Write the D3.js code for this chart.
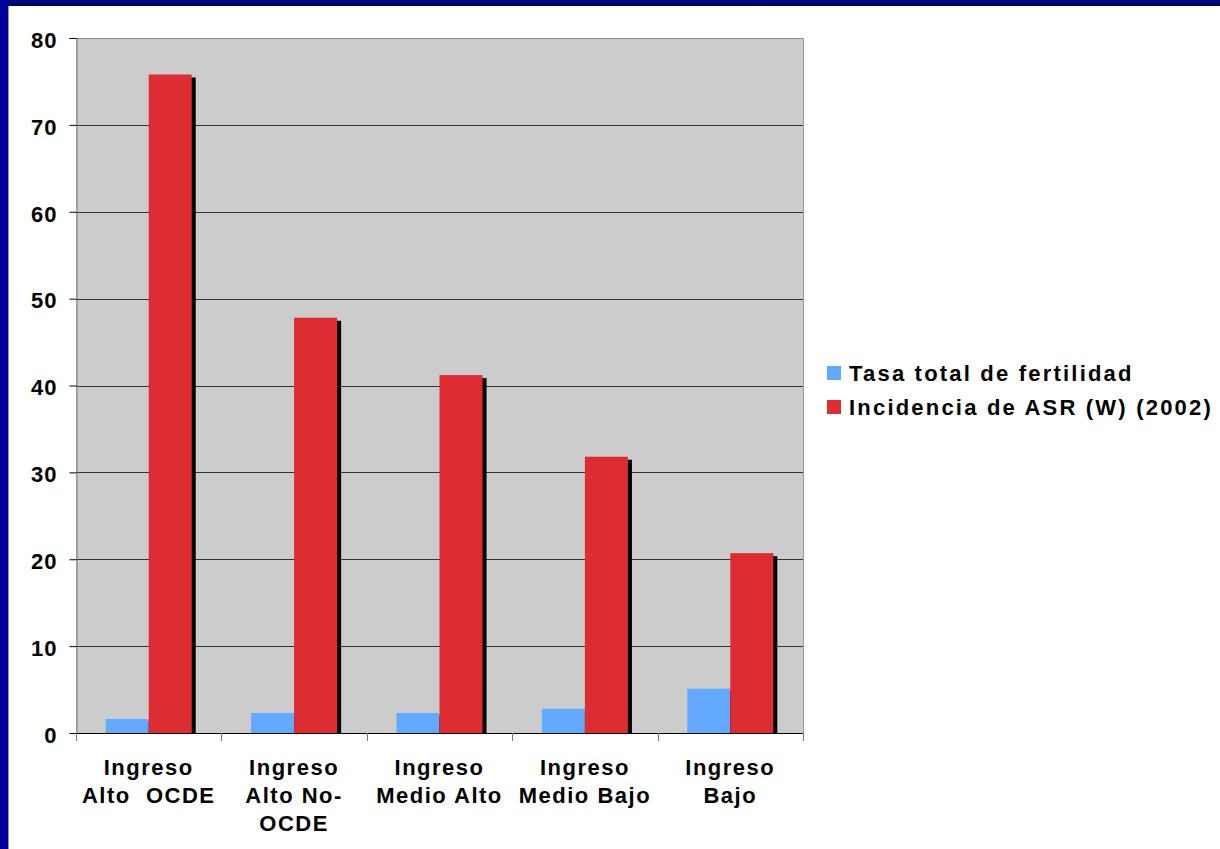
<!DOCTYPE html>
<html>
<head>
<meta charset="utf-8">
<script src="https://cdn.jsdelivr.net/npm/d3@7"></script>
<style>
  html, body { margin: 0; padding: 0; background: #ffffff; }
  svg { display: block; }
  text { font-family: "Liberation Sans", Arial, sans-serif; font-weight: bold; fill: #000; }
</style>
</head>
<body>
<svg id="chart" width="1220" height="849"></svg>
<script>
// Income groups and the two series plotted for each
const categories = [
  ["Ingreso", "Alto  OCDE"],
  ["Ingreso", "Alto No-", "OCDE"],
  ["Ingreso", "Medio Alto"],
  ["Ingreso", "Medio Bajo"],
  ["Ingreso", "Bajo"]
];
const seriesNames = ["Tasa total de fertilidad", "Incidencia de ASR (W) (2002)"];
const fertilidad = [1.6, 2.3, 2.3, 2.8, 5.1];
const incidencia = [75.8, 47.8, 41.2, 31.8, 20.7];
const yTicks = [0, 10, 20, 30, 40, 50, 60, 70, 80];
const colors = ["#63a9ff", "#de2c33"];

const svg = d3.select("#chart");

// Slide frame: navy band along the top and left edges
const grad = svg.append("defs").append("linearGradient")
  .attr("id", "frameTop").attr("x1", 0).attr("y1", 0).attr("x2", 0).attr("y2", 1);
grad.append("stop").attr("offset", "0%").attr("stop-color", "#000a8c");
grad.append("stop").attr("offset", "100%").attr("stop-color", "#000050");
svg.append("rect").attr("x", 0).attr("y", 0).attr("width", 1220).attr("height", 6).attr("fill", "url(#frameTop)");
svg.append("rect").attr("x", 0).attr("y", 0).attr("width", 8).attr("height", 849).attr("fill", "#00009a");
svg.append("rect").attr("x", 8).attr("y", 6).attr("width", 1).attr("height", 843).attr("fill", "#9a9a9a");

const plot = { left: 76, right: 803, top: 38, bottom: 733 };

const x = d3.scaleBand()
  .domain(d3.range(categories.length))
  .range([plot.left, plot.right])
  .paddingInner(0).paddingOuter(0);

const inner = d3.scaleBand()
  .domain([0, 1])
  .range([0, x.bandwidth()])
  .paddingInner(0)
  .paddingOuter(0.69);

const y = d3.scaleLinear().domain([0, 80]).range([plot.bottom, plot.top]);

// Plot area background
svg.append("rect")
  .attr("x", plot.left).attr("y", plot.top)
  .attr("width", plot.right - plot.left).attr("height", plot.bottom - plot.top)
  .attr("fill", "#cccccc");

// Horizontal gridlines
svg.append("g").selectAll("line")
  .data(yTicks.filter(t => t > 0))
  .join("line")
  .attr("x1", plot.left).attr("x2", plot.right)
  .attr("y1", d => Math.round(y(d)) + 0.5).attr("y2", d => Math.round(y(d)) + 0.5)
  .attr("stroke", d => d === 80 ? "#8a8a8a" : "#333333")
  .attr("stroke-width", 1);

// Right edge of plot area
svg.append("line")
  .attr("x1", plot.right + 0.5).attr("x2", plot.right + 0.5)
  .attr("y1", plot.top).attr("y2", plot.bottom)
  .attr("stroke", "#999999");

const series = [fertilidad, incidencia];

// Drop shadows for the bars
series.forEach((vals, s) => {
  svg.append("g").selectAll("rect")
    .data(vals)
    .join("rect")
    .attr("x", (d, i) => x(i) + inner(s) + 4)
    .attr("y", d => y(d) + 3)
    .attr("width", inner.bandwidth())
    .attr("height", d => y(0) - y(d) - 3)
    .attr("fill", "#000000");
});

// Bars
series.forEach((vals, s) => {
  svg.append("g").selectAll("rect")
    .data(vals)
    .join("rect")
    .attr("x", (d, i) => x(i) + inner(s))
    .attr("y", d => y(d))
    .attr("width", inner.bandwidth())
    .attr("height", d => y(0) - y(d))
    .attr("fill", colors[s]);
});

// Y axis
const yAxis = d3.axisLeft(y).tickValues(yTicks).tickSize(7).tickPadding(12);
const gy = svg.append("g")
  .attr("transform", `translate(${plot.left + 0.5},0)`)
  .call(yAxis);
gy.select(".domain").attr("stroke", "#777777");
gy.selectAll(".tick line").attr("stroke", "#000000");
gy.selectAll(".tick text")
  .style("font-size", "22px")
  .style("font-family", "'Liberation Sans', Arial, sans-serif")
  .style("font-weight", "bold")
  .style("letter-spacing", "1px")
  .attr("dy", "0.42em")
  .attr("fill", "#000");

// X axis with ticks at category boundaries
svg.append("line")
  .attr("x1", plot.left).attr("x2", plot.right + 1)
  .attr("y1", plot.bottom + 0.5).attr("y2", plot.bottom + 0.5)
  .attr("stroke", "#000000");
svg.append("g").selectAll("line")
  .data(d3.range(categories.length + 1))
  .join("line")
  .attr("x1", i => Math.round(plot.left + i * x.bandwidth()) + 0.5)
  .attr("x2", i => Math.round(plot.left + i * x.bandwidth()) + 0.5)
  .attr("y1", plot.bottom).attr("y2", plot.bottom + 8)
  .attr("stroke", "#777777");

// Category labels
const labels = svg.append("g").selectAll("text")
  .data(categories)
  .join("text")
  .attr("text-anchor", "middle")
  .style("font-size", "22px")
  .style("letter-spacing", "1.5px")
  .attr("transform", (d, i) => `translate(${x(i) + x.bandwidth() / 2},0)`);
labels.selectAll("tspan")
  .data(d => d)
  .join("tspan")
  .attr("x", 0)
  .attr("y", (d, j) => 775 + j * 28)
  .style("white-space", "pre")
  .text(d => d);

// Legend
const legend = svg.append("g");
seriesNames.forEach((name, s) => {
  legend.append("rect")
    .attr("x", 827).attr("y", 366 + s * 34)
    .attr("width", 14).attr("height", 14)
    .attr("fill", colors[s]);
  legend.append("text")
    .attr("x", 849).attr("y", 381 + s * 34)
    .style("font-size", "22px")
    .style("letter-spacing", "2.2px")
    .style("white-space", "pre")
    .text(name);
});
</script>
</body>
</html>
